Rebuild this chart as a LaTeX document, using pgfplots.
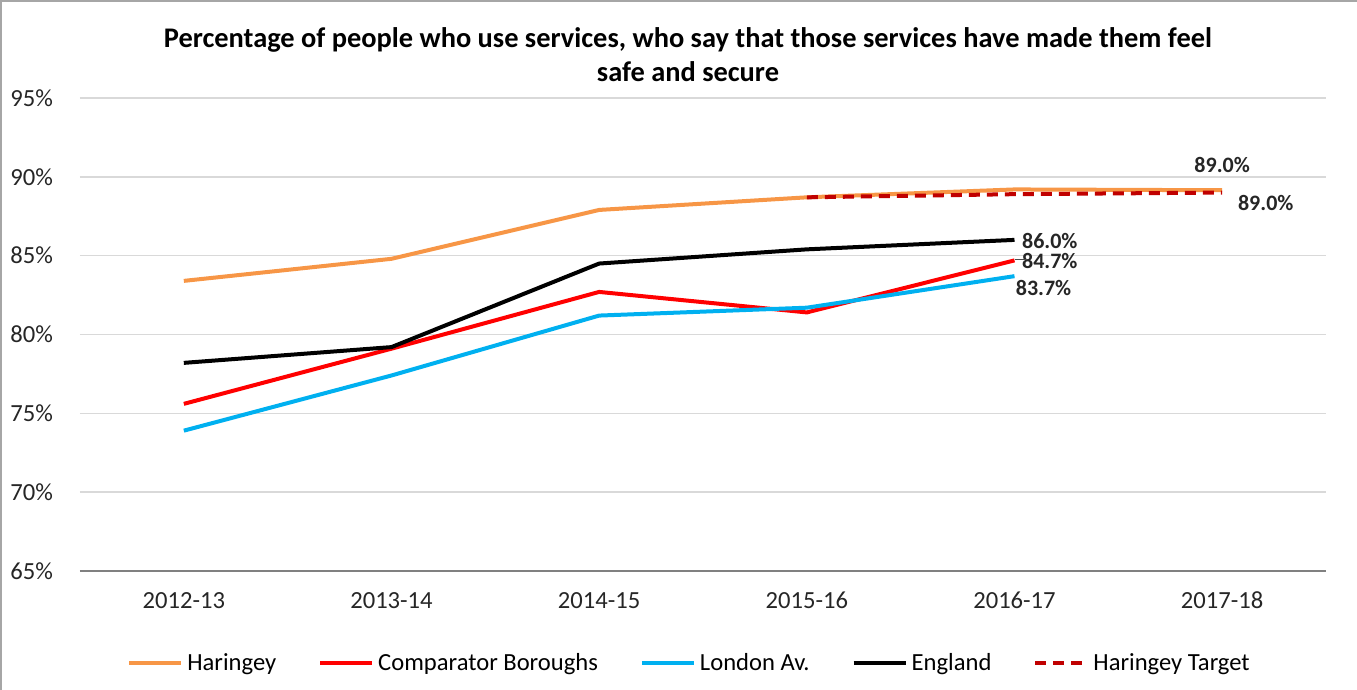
\documentclass[border=0pt]{standalone}
\usepackage{pgfplots}
\pgfplotsset{compat=1.18}
\usepackage{fontspec}
\setmainfont{Carlito}

\definecolor{haringey}{HTML}{F79646}
\definecolor{london}{HTML}{00B0F0}
\definecolor{target}{HTML}{C00000}
\definecolor{gridgray}{HTML}{D9D9D9}

\begin{document}
\begin{tikzpicture}[x=1pt,y=1pt]
% 1px of the reference = 0.5pt
\useasboundingbox (0,0) rectangle (678.5,345);
\draw[gray!70, line width=0.8pt] (0.4,0) -- (0.4,344.6) -- (678.5,344.6);

\node[font=\bfseries\fontsize{14.2}{17}\selectfont, align=center] at (344,317.5)
  {Percentage of people who use services, who say that those services have made them feel\\safe and secure};

\begin{axis}[
    at={(40pt,59.5pt)}, anchor=south west,
    scale only axis,
    width=623pt, height=236.5pt,
    xmin=-0.5, xmax=5.5,
    ymin=65, ymax=95,
    xtick={0,1,2,3,4,5},
    xticklabels={2012-13,2013-14,2014-15,2015-16,2016-17,2017-18},
    ytick={65,70,75,80,85,90,95},
    yticklabel={\pgfmathprintnumber{\tick}\%},
    /pgf/number format/assume math mode=true,
    ticklabel style={font=\fontsize{12.3}{14}\selectfont, text=black!85},
    yticklabel style={xshift=-10pt},
    xticklabel style={yshift=-7pt},
    major tick length=0pt,
    axis y line*=left,
    y axis line style={draw=none},
    axis x line*=bottom,
    x axis line style={gray, line width=0.8pt, -},
    ymajorgrids=true,
    grid style={gridgray, line width=0.8pt},
    clip=false,
    legend style={
        at={(0.49,-0.195)}, anchor=center,
        draw=none, fill=none,
        legend columns=5,
        font=\fontsize{12.3}{14}\selectfont,
        /tikz/every even column/.append style={column sep=19pt},
    },
    legend cell align=left,
    legend image code/.code={\draw[#1] (0pt,0pt) -- (26pt,0pt);},
]

\addplot[haringey, line width=2pt] coordinates {
    (0,83.4)(1,84.8)(2,87.9)(3,88.7)(4,89.2)(5,89.15)
};
\addlegendentry{Haringey}

\addplot[red, line width=2pt] coordinates {
    (0,75.6)(1,79.1)(2,82.7)(3,81.4)(4,84.7)
};
\addlegendentry{Comparator Boroughs}

\addplot[london, line width=2pt] coordinates {
    (0,73.9)(1,77.4)(2,81.2)(3,81.7)(4,83.7)
};
\addlegendentry{London Av.}

\addplot[black, line width=2pt] coordinates {
    (0,78.2)(1,79.2)(2,84.5)(3,85.4)(4,86.0)
};
\addlegendentry{England}

\addplot[target, line width=2pt, dash pattern=on 5.5pt off 3.5pt] coordinates {
    (3,88.7)(4,88.9)(5,89.0)
};
\addlegendentry{Haringey Target}

\begin{scope}[every node/.style={font=\bfseries\fontsize{11}{13}\selectfont, text=black!85}]
\node at (axis cs:5.0,90.75) {89.0\%};
\node at (axis cs:5.21,88.34) {89.0\%};
\node at (axis cs:4.17,85.93) {86.0\%};
\node at (axis cs:4.17,84.66) {84.7\%};
\node at (axis cs:4.14,82.95) {83.7\%};
\end{scope}
\draw[black!70, line width=0.6pt] (axis cs:4.0,84.78) -- (axis cs:4.06,84.78);

\end{axis}
\end{tikzpicture}
\end{document}
